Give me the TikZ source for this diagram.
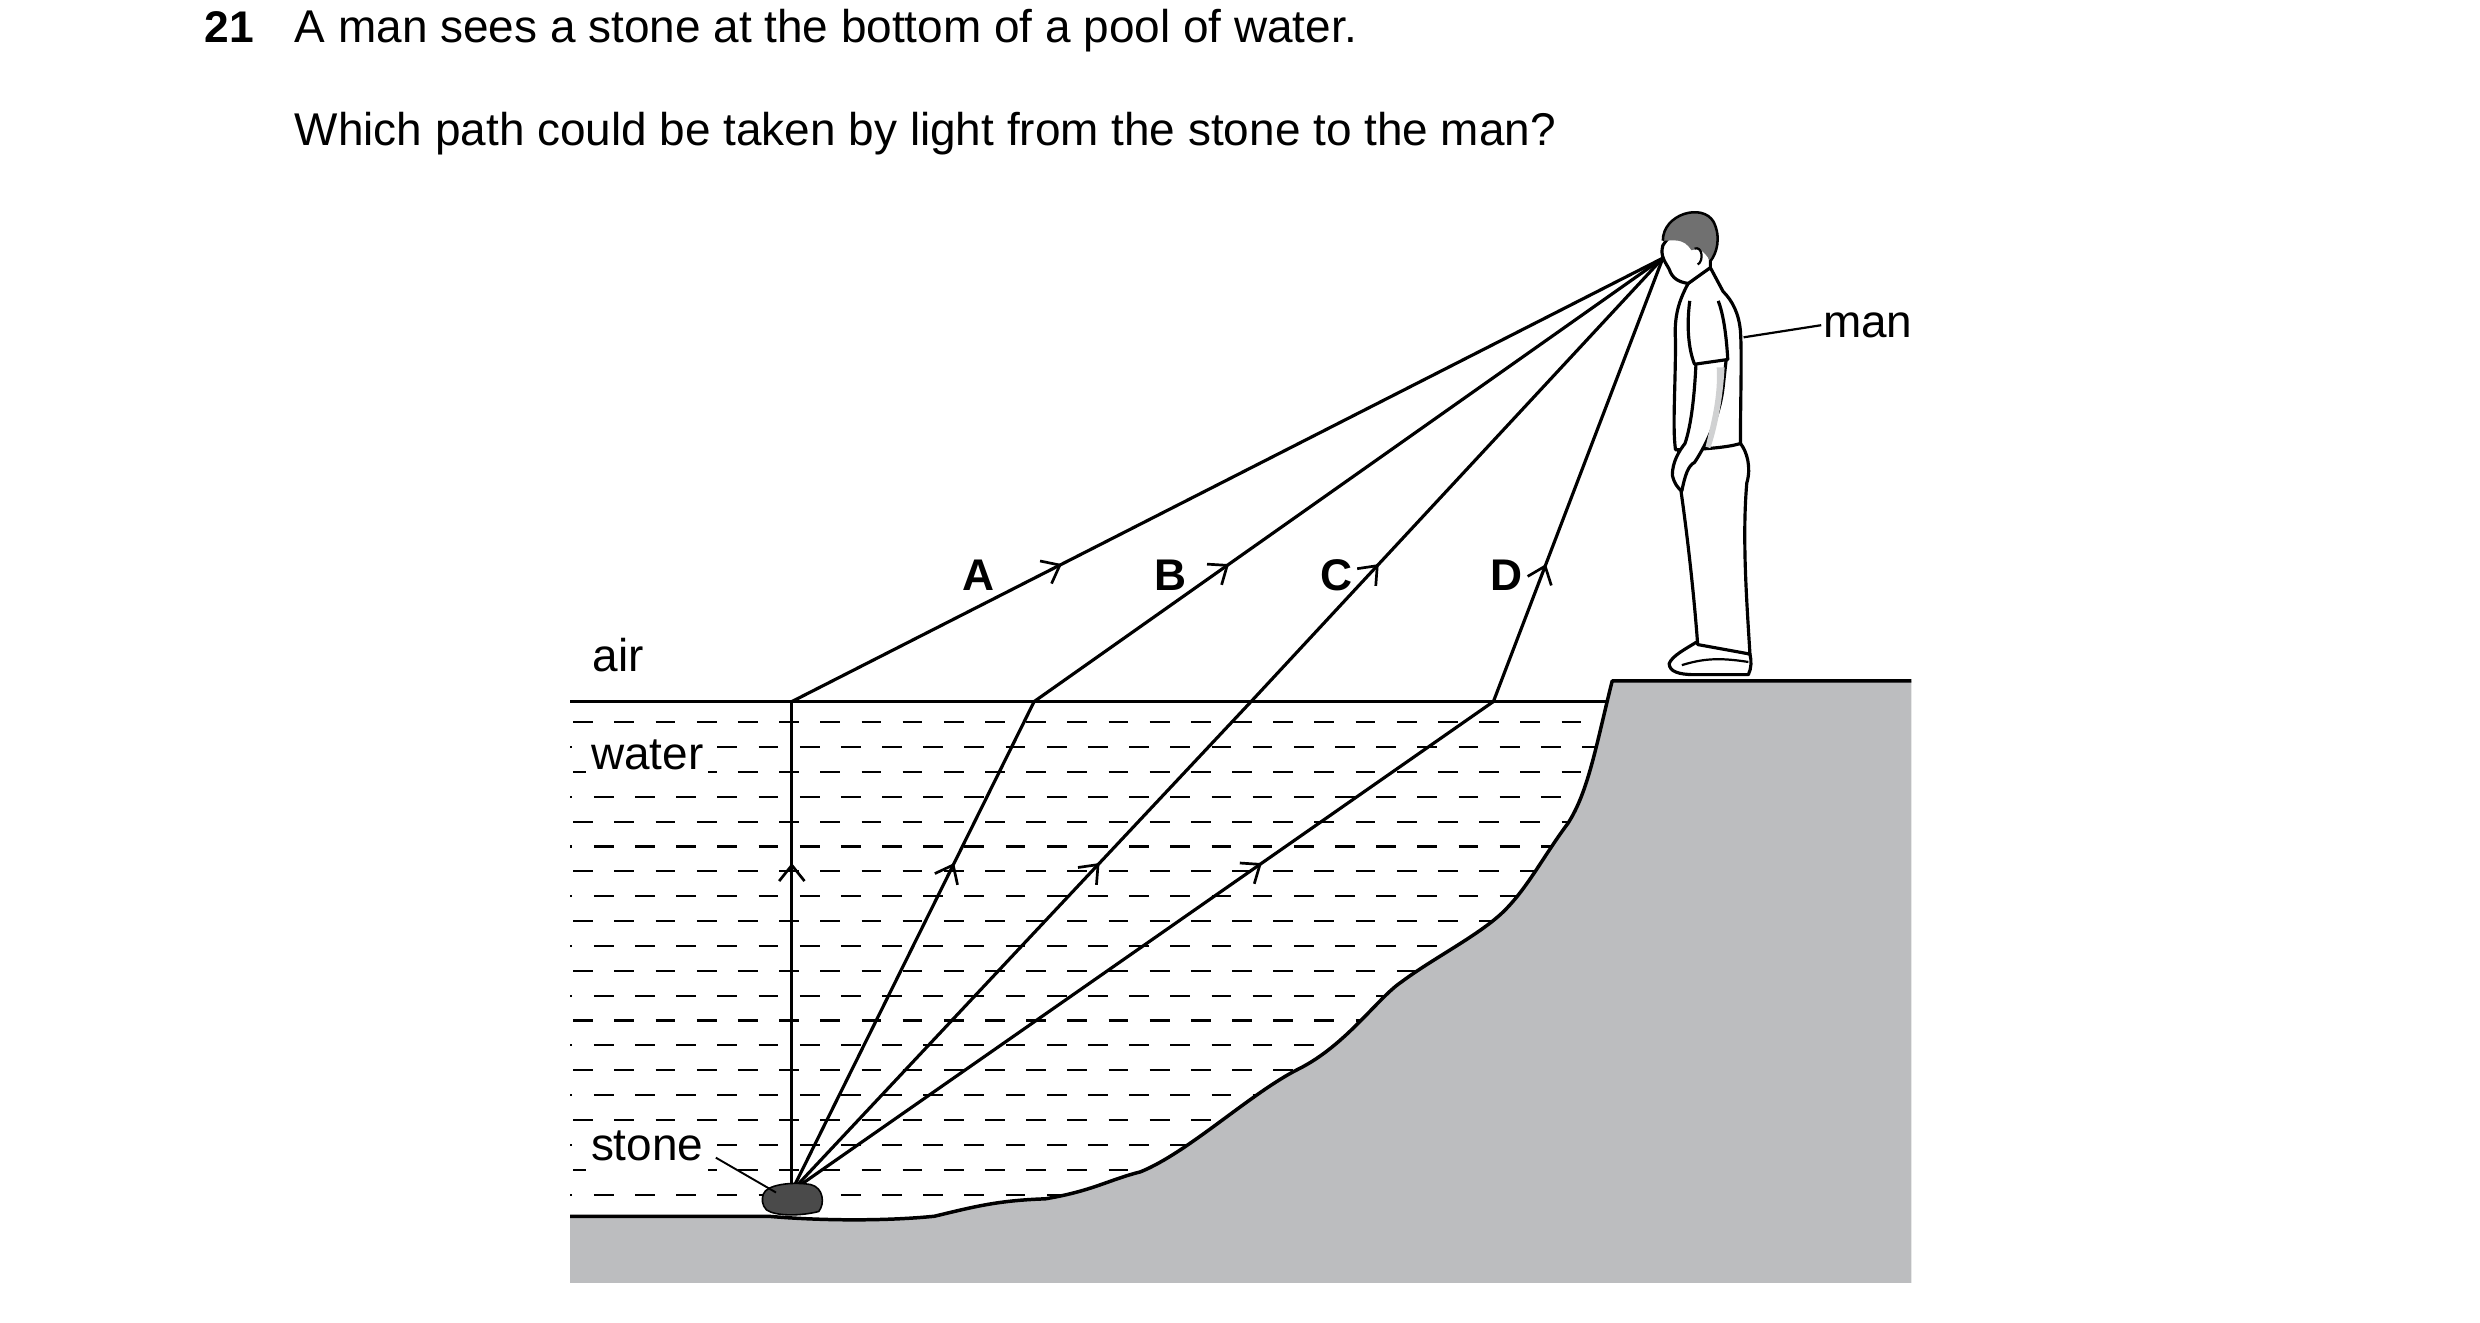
\documentclass[tikz,border=0pt]{standalone}
\usepackage{fontspec}
\setmainfont{Liberation Sans}
\usetikzlibrary{decorations.markings,arrows.meta}
\definecolor{ground}{HTML}{BCBDBF}
\definecolor{stonec}{HTML}{4A4A4A}
\definecolor{hair}{HTML}{707070}
\begin{document}
\begin{tikzpicture}[x=1pt,y=-1pt,line join=round,
  txt/.style={font=\fontsize{29}{33}\selectfont,inner sep=1pt},
  lbl/.style={font=\fontsize{28}{32}\selectfont\bfseries,inner sep=1pt},
  ray/.style={line width=2pt},
  chev/.style={decoration={markings,mark=at position #1 with {\arrow{Straight Barb[length=10pt,width=16pt,line width=1.7pt]}}},postaction={decorate}},
  body/.style={line width=2pt,fill=white}]
\useasboundingbox (0,0) rectangle (1566,835);
% text
\node[lbl,anchor=base west] (q) at (128,27) {21};
\node[txt,anchor=base west] (t1) at (185,27) {A man sees a stone at the bottom of a pool of water.};
\node[txt,anchor=base west] (t2) at (185,92) {Which path could be taken by light from the stone to the man?};
% ground
\path[fill=ground] (360,768) -- (485,768) .. controls (520,771) and (560,771) .. (590,768)
  .. controls (615,762) and (630,758) .. (660,757) .. controls (690,752) and (700,745) .. (720,740)
  .. controls (750,728) and (790,690) .. (820,675) .. controls (850,660) and (870,630) .. (885,620)
  .. controls (905,605) and (935,590) .. (950,575) .. controls (965,560) and (975,540) .. (990,520)
  .. controls (1003,500) and (1008,470) .. (1018,430) -- (1207,430) -- (1207,810) -- (360,810) -- cycle;
% water dashes
\begin{scope}
\clip (360,445) -- (1015,445) -- (1018,430) .. controls (1008,470) and (1003,500) .. (990,520)
  .. controls (975,540) and (965,560) .. (950,575) .. controls (935,590) and (905,605) .. (885,620)
  .. controls (870,630) and (850,660) .. (820,675) .. controls (790,690) and (750,728) .. (720,740)
  .. controls (700,745) and (690,752) .. (660,757) .. controls (630,758) and (615,762) .. (590,768)
  -- (360,768) -- cycle;
\foreach \i in {0,...,19}{
  \pgfmathsetmacro{\yy}{456+15.7*\i}
  \pgfmathsetmacro{\xo}{mod(\i,2)==0 ? 362 : 349}
  \draw[line width=1.3pt,dash pattern=on 12.5pt off 13.5pt] (\xo,\yy) -- (1020,\yy);
}
\end{scope}
\draw[line width=2.2pt] (360,768) -- (485,768) .. controls (520,771) and (560,771) .. (590,768)
  .. controls (615,762) and (630,758) .. (660,757) .. controls (690,752) and (700,745) .. (720,740)
  .. controls (750,728) and (790,690) .. (820,675) .. controls (850,660) and (870,630) .. (885,620)
  .. controls (905,605) and (935,590) .. (950,575) .. controls (965,560) and (975,540) .. (990,520)
  .. controls (1003,500) and (1008,470) .. (1018,430) -- (1207,430);
\draw[line width=2.2pt] (360,443) -- (1015,443);
% labels
\node[txt,anchor=base west] (air) at (373,424) {air};
\node[txt,anchor=base west,fill=white,inner xsep=3pt,inner ysep=6pt] (water) at (370,486) {water};
\node[txt,anchor=base west,fill=white,inner xsep=3pt,inner ysep=6pt] (stonel) at (370,733) {stone};
\node[lbl] (A) at (618,363) {A};
\node[lbl] (B) at (739,363) {B};
\node[lbl] (C) at (844,363) {C};
\node[lbl] (D) at (951,363) {D};
% points
\coordinate (s) at (500,752);
\coordinate (eye) at (1050,163);
\coordinate (pa) at (500,443);
\coordinate (pb) at (653,443);
\coordinate (pc) at (790,443);
\coordinate (pd) at (943,443);
\foreach \p in {pa,pb,pc,pd}{
  \draw[ray,chev=0.67] (s) -- (\p);
  \draw[ray,chev=0.31] (\p) -- (eye);
}
% stone
\draw[line width=1pt,fill=stonec] (482,754) .. controls (484,748) and (500,746) .. (512,748)
  .. controls (520,750) and (521,760) .. (517,765) .. controls (505,768) and (490,768) .. (484,764) .. controls (481,761) and (481,757) .. (482,754) -- cycle;
\coordinate (stoneTip) at (490,753);
\draw[line width=1.2pt] (452,731) -- (stoneTip);
% man
\draw[body] (1072,405) .. controls (1064,410) and (1056,414) .. (1054,419) .. controls (1054,424) and (1060,426) .. (1070,426)
  -- (1104,426) .. controls (1106,422) and (1106,417) .. (1105,413) -- cycle;
\draw[line width=1.4pt] (1062,420) .. controls (1075,416) and (1085,415) .. (1104,418);
\draw[body] (1060,300) .. controls (1066,340) and (1070,380) .. (1072,407) -- (1105,413)
  .. controls (1103,380) and (1100,340) .. (1103,305) .. controls (1106,295) and (1103,285) .. (1099,280) -- (1060,283) -- cycle;
\draw[body] (1066,179) .. controls (1060,190) and (1057,200) .. (1058,215) .. controls (1058,245) and (1056,270) .. (1058,284)
  .. controls (1070,284) and (1090,283) .. (1099,280) .. controls (1099,250) and (1100,225) .. (1099,209)
  .. controls (1098,198) and (1094,190) .. (1088,184) -- (1080,169) .. controls (1075,172) and (1070,176) .. (1066,179) -- cycle;
% arm
\draw[body] (1071,228) .. controls (1070,250) and (1068,268) .. (1064,280) .. controls (1060,285) and (1056,292) .. (1056,300)
  .. controls (1057,305) and (1060,309) .. (1062,310) .. controls (1064,300) and (1066,294) .. (1070,292)
  .. controls (1078,280) and (1086,262) .. (1088,245) -- (1090,227) -- cycle;
\fill[ground!70] (1084,232) .. controls (1085,250) and (1081,265) .. (1077,282) -- (1080,283) .. controls (1085,268) and (1088,250) .. (1089,232) -- cycle;
% sleeve
\draw[body] (1067,190) .. controls (1065,205) and (1066,220) .. (1070,230) -- (1091,227) .. controls (1090,210) and (1088,198) .. (1085,190);
% head
\draw[body] (1050,155) .. controls (1048,162) and (1052,166) .. (1054,170) .. controls (1056,176) and (1060,178) .. (1066,179)
  -- (1080,169) .. controls (1080,160) and (1080,150) .. (1078,145) .. controls (1070,140) and (1058,142) .. (1050,155) -- cycle;
\fill[hair] (1050,152) .. controls (1050,135) and (1075,128) .. (1082,140) .. controls (1087,150) and (1084,160) .. (1080,165)
  .. controls (1076,158) and (1072,156) .. (1068,158) .. controls (1063,150) and (1057,152) .. (1050,152) -- cycle;
\draw[line width=1.6pt] (1050,152) .. controls (1050,135) and (1075,128) .. (1082,140) .. controls (1087,150) and (1084,160) .. (1080,165);
\draw[line width=1.4pt] (1070,157) .. controls (1075,155) and (1076,165) .. (1072,167);
% man label
\node[txt,anchor=base west] (manl) at (1150,213) {man};
\draw[line width=1.4pt] (1101,213) -- (manl.west);
\end{tikzpicture}
\end{document}
